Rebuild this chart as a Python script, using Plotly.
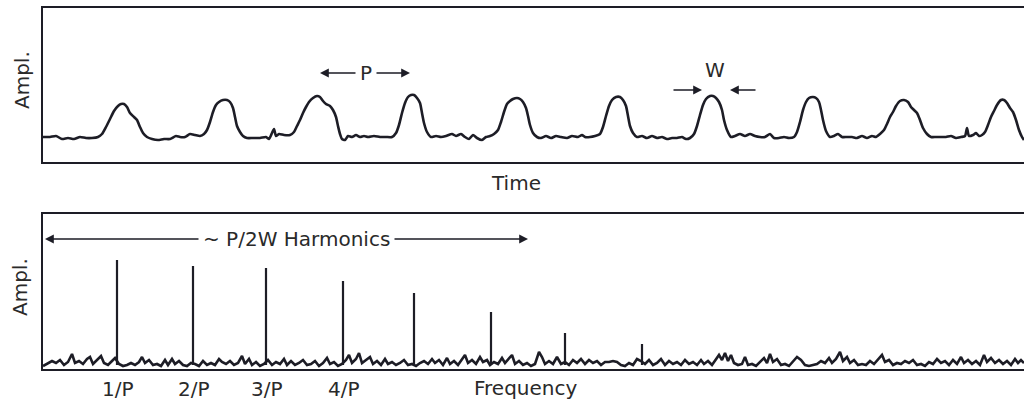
import plotly.graph_objects as go

# ---------------- data ----------------
# Top panel: periodic pulse train (time in arbitrary units, amplitude in arbitrary units)
time_t = [43, 50, 56, 62, 68, 74, 80, 86, 92, 98, 102, 106, 110, 114, 118, 121, 124, 127, 130, 134,
          137, 140, 143, 147, 152, 158, 164, 170, 176, 180, 185, 190, 195, 200, 204, 207, 210, 213, 216, 219,
          223, 227, 230, 233, 235, 237, 240, 243, 247, 253, 260, 266, 269, 272, 274, 276, 279, 284, 290, 294,
          297, 300, 303, 306, 309, 313, 317, 320, 323, 326, 330, 333, 336, 338, 340, 342, 345, 348, 352, 356,
          360, 364, 368, 374, 380, 386, 392, 396, 399, 402, 405, 408, 411, 414, 417, 420, 422, 424, 427, 431,
          436, 441, 446, 452, 456, 461, 465, 469, 473, 477, 482, 486, 490, 494, 498, 501, 504, 507, 510, 513,
          517, 520, 523, 526, 528, 530, 533, 537, 541, 546, 551, 556, 561, 567, 572, 578, 582, 585, 590, 595,
          600, 603, 606, 609, 612, 616, 620, 623, 626, 628, 630, 633, 637, 642, 647, 652, 657, 662, 667, 672,
          677, 682, 686, 690, 694, 697, 700, 703, 706, 710, 713, 716, 719, 722, 724, 727, 731, 735, 740, 745,
          750, 755, 760, 765, 770, 774, 779, 784, 789, 794, 797, 800, 803, 806, 809, 813, 816, 819, 821, 823,
          826, 830, 834, 838, 842, 847, 852, 857, 862, 867, 872, 876, 880, 884, 887, 890, 893, 896, 900, 904,
          908, 911, 914, 917, 920, 923, 927, 931, 936, 941, 946, 951, 956, 961, 965, 967, 969, 973, 976, 979,
          982, 985, 988, 991, 994, 997, 1001, 1004, 1007, 1010, 1013, 1016, 1019, 1022, 1024]
time_amp = [25, 25, 26, 23, 24, 23, 25, 24, 24, 25, 28, 35, 43, 51, 56, 58, 58, 55, 49, 45,
            42, 35, 29, 25, 23, 22, 23, 23, 26, 25, 25, 28, 27, 26, 28, 32, 40, 50, 57, 60,
            62, 62, 60, 54, 45, 36, 30, 26, 24, 24, 24, 25, 23, 29, 33, 26, 28, 27, 27, 30,
            36, 42, 49, 55, 60, 64, 66, 65, 61, 58, 56, 52, 45, 36, 28, 23, 22, 26, 25, 27,
            25, 26, 25, 26, 25, 25, 25, 29, 37, 49, 59, 65, 67, 67, 64, 59, 49, 39, 30, 25,
            26, 25, 26, 28, 26, 28, 25, 23, 27, 24, 22, 25, 26, 28, 32, 40, 50, 58, 61, 63,
            64, 63, 60, 54, 46, 37, 29, 25, 24, 26, 24, 26, 25, 24, 26, 25, 27, 25, 25, 26,
            28, 35, 46, 56, 62, 65, 65, 62, 56, 46, 36, 29, 25, 26, 24, 26, 24, 25, 23, 24,
            24, 25, 23, 24, 28, 36, 47, 57, 63, 66, 66, 64, 60, 52, 42, 32, 25, 26, 28, 26,
            28, 26, 25, 25, 28, 24, 24, 25, 24, 25, 30, 40, 52, 60, 64, 65, 64, 60, 52, 42,
            31, 25, 26, 28, 25, 25, 25, 24, 26, 24, 26, 25, 28, 32, 38, 45, 50, 56, 61, 62,
            60, 55, 52, 49, 42, 34, 28, 25, 25, 25, 25, 26, 24, 25, 26, 34, 26, 27, 29, 26,
            27, 30, 37, 45, 51, 57, 62, 62, 59, 54, 50, 42, 32, 25, 22]

# Bottom panel: spectrum background noise
freq_f = [43, 47, 52, 56, 60, 64, 68, 72, 75, 79, 83, 87, 90, 93, 97, 101, 104, 108, 112, 115,
          119, 123, 127, 131, 135, 139, 142, 145, 149, 153, 157, 161, 165, 168, 172, 175, 179, 183, 187, 191,
          195, 199, 203, 207, 211, 215, 219, 222, 226, 230, 234, 238, 242, 245, 249, 252, 256, 260, 264, 268,
          272, 276, 280, 284, 287, 291, 295, 299, 303, 307, 311, 315, 319, 323, 327, 330, 334, 338, 342, 346,
          349, 352, 356, 359, 362, 366, 370, 373, 377, 381, 385, 388, 392, 396, 400, 404, 408, 412, 416, 420,
          424, 428, 432, 435, 439, 443, 447, 450, 454, 458, 462, 465, 468, 472, 476, 480, 483, 487, 490, 494,
          498, 502, 505, 509, 512, 515, 519, 523, 527, 531, 535, 539, 542, 545, 549, 553, 557, 561, 565, 569,
          573, 577, 581, 585, 589, 593, 597, 601, 605, 609, 613, 617, 621, 625, 629, 633, 637, 641, 645, 649,
          653, 657, 661, 665, 669, 673, 677, 681, 685, 689, 693, 697, 701, 704, 708, 712, 716, 719, 722, 725,
          728, 731, 734, 738, 742, 745, 748, 752, 756, 760, 764, 767, 770, 773, 777, 781, 785, 789, 793, 797,
          801, 805, 809, 813, 817, 821, 825, 829, 832, 836, 840, 843, 847, 850, 854, 858, 862, 866, 870, 874,
          878, 882, 885, 889, 893, 897, 901, 905, 909, 913, 917, 921, 925, 929, 933, 937, 941, 945, 949, 953,
          957, 961, 964, 968, 972, 976, 980, 984, 987, 991, 995, 999, 1003, 1007, 1011, 1015, 1018, 1021, 1024]
freq_noise = [3, 5, 8, 6, 9, 4, 7, 15, 6, 8, 5, 10, 12, 5, 9, 13, 6, 4, 8, 11,
              5, 3, 4, 6, 4, 7, 12, 6, 9, 4, 5, 3, 9, 4, 10, 5, 8, 4, 3, 6,
              5, 3, 8, 4, 6, 4, 10, 7, 5, 8, 4, 6, 13, 5, 10, 4, 7, 3, 5, 9,
              4, 7, 5, 10, 4, 8, 4, 6, 9, 4, 5, 8, 3, 6, 11, 5, 7, 3, 5, 9,
              14, 6, 10, 16, 6, 9, 12, 5, 8, 4, 10, 5, 7, 4, 6, 9, 4, 5, 3, 6,
              8, 5, 10, 6, 9, 4, 11, 5, 8, 4, 10, 14, 6, 9, 5, 12, 7, 9, 4, 7,
              5, 11, 6, 10, 14, 5, 8, 4, 6, 3, 5, 17, 12, 5, 8, 5, 12, 5, 7, 4,
              9, 6, 10, 5, 9, 6, 8, 4, 7, 7, 8, 7, 4, 3, 6, 4, 10, 8, 5, 9,
              4, 6, 10, 4, 8, 5, 7, 4, 9, 5, 7, 4, 9, 5, 8, 4, 10, 14, 9, 16,
              8, 14, 6, 4, 5, 12, 4, 5, 3, 7, 11, 6, 15, 7, 10, 4, 5, 3, 8, 12,
              9, 4, 3, 4, 5, 8, 6, 11, 6, 10, 17, 8, 12, 6, 9, 4, 5, 4, 8, 5,
              10, 14, 7, 9, 4, 6, 5, 8, 6, 9, 4, 5, 3, 7, 5, 10, 6, 8, 4, 9,
              5, 12, 6, 9, 5, 8, 4, 14, 7, 11, 6, 9, 5, 8, 4, 10, 6, 9, 6]

# Harmonic spikes
spike_freq = [117, 193, 266, 343, 414, 491, 565, 642]
spike_amp = [109, 103, 101, 88, 76, 57, 36, 25]
spike_base = 4
harmonic_labels = ["1/P", "2/P", "3/P", "4/P"]

# ---------------- styling ----------------
INK = "#1d1d26"
TXT = "#2a2a2a"
FONT = dict(family="DejaVu Sans", size=20, color=TXT)

fig = go.Figure()

fig.add_trace(go.Scatter(x=time_t, y=time_amp, mode="lines",
                         line=dict(color=INK, width=2.6, shape="spline", smoothing=0.6),
                         xaxis="x", yaxis="y", hoverinfo="skip", showlegend=False))

fig.add_trace(go.Scatter(x=freq_f, y=freq_noise, mode="lines",
                         line=dict(color=INK, width=2.6),
                         xaxis="x2", yaxis="y2", hoverinfo="skip", showlegend=False))

sx, sy = [], []
for f, a in zip(spike_freq, spike_amp):
    sx += [f, f, None]
    sy += [spike_base, a, None]
fig.add_trace(go.Scatter(x=sx, y=sy, mode="lines",
                         line=dict(color=INK, width=2.2),
                         xaxis="x2", yaxis="y2", hoverinfo="skip", showlegend=False))

W, H = 1024, 403
axis_common = dict(showgrid=False, zeroline=False, showticklabels=False, ticks="",
                   showline=True, linecolor=INK, linewidth=2)

fig.update_layout(
    width=W, height=H,
    margin=dict(l=0, r=0, t=0, b=0),
    paper_bgcolor="white", plot_bgcolor="white",
    font=FONT,
    xaxis=dict(domain=[43 / W, 1.0], range=[43, 1024], mirror=True, anchor="y", **axis_common),
    yaxis=dict(domain=[(H - 162) / H, (H - 8) / H], range=[0, 154], mirror=False, anchor="x", **axis_common),
    xaxis2=dict(domain=[43 / W, 1.0], range=[43, 1024], mirror=True, anchor="y2", **axis_common),
    yaxis2=dict(domain=[(H - 369) / H, (H - 214) / H], range=[0, 155], mirror=False, anchor="x2", **axis_common),
)

ann = []
# Axis labels
ann.append(dict(text="Ampl.", xref="paper", yref="paper", x=22 / W, y=(H - 80) / H,
                textangle=-90, showarrow=False, xanchor="center", yanchor="middle"))
ann.append(dict(text="Ampl.", xref="paper", yref="paper", x=20 / W, y=(H - 287) / H,
                textangle=-90, showarrow=False, xanchor="center", yanchor="middle"))
ann.append(dict(text="Time", xref="paper", yref="paper", x=516 / W, y=(H - 183) / H,
                showarrow=False, xanchor="center", yanchor="middle"))
ann.append(dict(text="Frequency", xref="paper", yref="paper", x=525 / W, y=(H - 388) / H,
                showarrow=False, xanchor="center", yanchor="middle"))
for f, lab in zip(spike_freq, harmonic_labels):
    ann.append(dict(text=lab, xref="x2", yref="paper", x=f + 1, y=(H - 389) / H,
                    showarrow=False, xanchor="center", yanchor="middle"))

# P arrows
ann.append(dict(text="P", xref="x", yref="y", x=366, y=89, showarrow=False,
                xanchor="center", yanchor="middle"))
arrow = dict(text="", showarrow=True, arrowhead=2, arrowsize=1.1, arrowwidth=1.6,
             arrowcolor=INK, standoff=0, startstandoff=0)
ann.append(dict(xref="x", yref="y", axref="x", ayref="y", x=320, y=89, ax=357, ay=89, **arrow))
ann.append(dict(xref="x", yref="y", axref="x", ayref="y", x=410, y=89, ax=375, ay=89, **arrow))
# W arrows
ann.append(dict(text="W", xref="x", yref="y", x=715, y=92, showarrow=False,
                xanchor="center", yanchor="middle"))
ann.append(dict(xref="x", yref="y", axref="x", ayref="y", x=702, y=72, ax=672, ay=72, **arrow))
ann.append(dict(xref="x", yref="y", axref="x", ayref="y", x=730, y=72, ax=757, ay=72, **arrow))
# Harmonics range arrow
ann.append(dict(text="~ P/2W Harmonics", xref="x2", yref="y2", x=296, y=130, showarrow=False,
                xanchor="center", yanchor="middle"))
ann.append(dict(xref="x2", yref="y2", axref="x2", ayref="y2", x=45, y=130, ax=200, ay=130, **arrow))
ann.append(dict(xref="x2", yref="y2", axref="x2", ayref="y2", x=528, y=130, ax=393, ay=130, **arrow))

fig.update_layout(annotations=ann)

fig.write_html("out.html")
